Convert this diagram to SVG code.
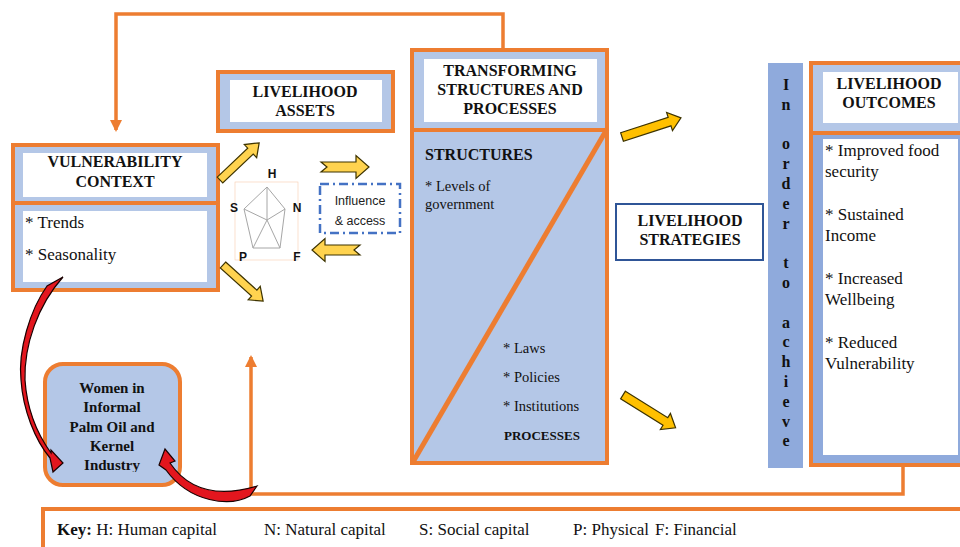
<svg xmlns="http://www.w3.org/2000/svg" width="960" height="547" viewBox="0 0 960 547" font-family="Liberation Serif, Times New Roman, serif">
<defs>
<style>
.ob{fill:#B4C7E7;stroke:#ED7D31;stroke-width:4}
.wb{fill:#FFFFFF;stroke:none}
.hd{font-weight:bold;font-size:16px;fill:#111;text-anchor:middle}
.hl{font-weight:bold;font-size:16px;fill:#111}
.tx{font-size:17px;fill:#111}
.sm{font-size:14.5px;fill:#111}
.sb{font-weight:bold;font-size:12px;fill:#111;text-anchor:middle}
.wt{font-weight:bold;font-size:15px;fill:#111;text-anchor:middle}
.con{fill:none;stroke:#ED7D31;stroke-width:3.5}
.ya{fill:#FFD34F;stroke:#3d3300;stroke-width:1.2}
.yb{fill:#FFC000;stroke:#3d3300;stroke-width:1.2}
.ra{fill:#E3161E;stroke:#1a0000;stroke-width:1.2}
</style>
<marker id="oh" markerWidth="12" markerHeight="12" refX="10" refY="6" orient="auto" markerUnits="userSpaceOnUse">
<path d="M0,0 L12,6 L0,12 Z" fill="#ED7D31"/>
</marker>
<clipPath id="clipW"><rect x="45" y="363" width="135" height="109"/></clipPath>
</defs>
<rect width="960" height="547" fill="#FFFFFF"/>

<g id="vulnerability">
<rect class="ob" x="13" y="145" width="205" height="58"/>
<rect class="wb" x="23" y="153" width="184" height="44"/>
<text class="hd" x="115" y="167">VULNERABILITY</text>
<text class="hd" x="115" y="187">CONTEXT</text>
<rect class="ob" x="13" y="203" width="205" height="87"/>
<rect class="wb" x="23" y="211" width="184" height="71"/>
<text class="tx" x="25" y="228">* Trends</text>
<text class="tx" x="25" y="260">* Seasonality</text>
</g>

<g id="assets">
<rect class="ob" x="218" y="72" width="175" height="59"/>
<rect class="wb" x="230" y="80" width="152" height="42"/>
<text class="hd" x="305" y="97">LIVELIHOOD</text>
<text class="hd" x="305" y="116">ASSETS</text>
</g>

<g id="pentagon" font-family="Liberation Sans, Arial, sans-serif">
<rect x="235" y="182" width="63" height="78" fill="none" stroke="#F8CBAD" stroke-width="0.6"/>
<polygon points="267,187 285,209 280,248 253,248 244,209" fill="#FFFFFF" stroke="#A6A6A6" stroke-width="1"/>
<path d="M267,220 L267,187 M267,220 L285,209 M267,220 L280,248 M267,220 L253,248 M267,220 L244,209" fill="none" stroke="#A6A6A6" stroke-width="1"/>
<text class="sb" x="272" y="178">H</text>
<text class="sb" x="234" y="212">S</text>
<text class="sb" x="297" y="212">N</text>
<text class="sb" x="243" y="261">P</text>
<text class="sb" x="297" y="261">F</text>
</g>

<g id="influence" font-family="Liberation Sans, Arial, sans-serif">
<rect x="320" y="184" width="80" height="49" fill="#FFFFFF" stroke="#4472C4" stroke-width="2.5" stroke-dasharray="9,4,2,4"/>
<text x="360" y="205" font-size="12.5" fill="#222" text-anchor="middle">Influence</text>
<text x="360" y="225" font-size="12.5" fill="#222" text-anchor="middle">&amp; access</text>
</g>

<g id="transforming">
<rect class="ob" x="412" y="50" width="195" height="80"/>
<rect class="wb" x="424" y="59" width="173" height="63"/>
<text class="hd" x="510" y="76">TRANSFORMING</text>
<text class="hd" x="510" y="95">STRUCTURES AND</text>
<text class="hd" x="510" y="114">PROCESSES</text>
<rect class="ob" x="412" y="130" width="195" height="333"/>
<line x1="413" y1="462" x2="607" y2="129" stroke="#ED7D31" stroke-width="5"/>
<text class="hl" x="425" y="160">STRUCTURES</text>
<text class="sm" x="425" y="191">* Levels of</text>
<text class="sm" x="425" y="209">government</text>
<text class="sm" x="503" y="353">* Laws</text>
<text class="sm" x="503" y="382">* Policies</text>
<text class="sm" x="503" y="411">* Institutions</text>
<text class="hl" x="504" y="440" style="font-size:13px">PROCESSES</text>
</g>

<g id="strategies">
<rect x="616" y="204" width="147" height="56" fill="#FFFFFF" stroke="#2F5597" stroke-width="2"/>
<text class="hd" x="690" y="226">LIVELIHOOD</text>
<text class="hd" x="690" y="245">STRATEGIES</text>
</g>

<g id="bar">
<rect x="768" y="63" width="35" height="405" fill="#8FAADC"/>
<text class="hd" x="786" y="90"><tspan x="786" y="90">I</tspan><tspan x="786" y="109.8">n</tspan><tspan x="786" y="149.4">o</tspan><tspan x="786" y="169.2">r</tspan><tspan x="786" y="189">d</tspan><tspan x="786" y="208.8">e</tspan><tspan x="786" y="228.6">r</tspan><tspan x="786" y="268.2">t</tspan><tspan x="786" y="288">o</tspan><tspan x="786" y="327.6">a</tspan><tspan x="786" y="347.4">c</tspan><tspan x="786" y="367.2">h</tspan><tspan x="786" y="387">i</tspan><tspan x="786" y="406.8">e</tspan><tspan x="786" y="426.6">v</tspan><tspan x="786" y="446.4">e</tspan></text>
</g>

<g id="outcomes">
<rect class="ob" x="811" y="63" width="160" height="70"/>
<rect class="wb" x="823" y="72" width="135" height="51"/>
<text class="hd" x="889" y="89">LIVELIHOOD</text>
<text class="hd" x="889" y="108">OUTCOMES</text>
<rect x="811" y="133" width="160" height="332" fill="#8FAADC" stroke="#ED7D31" stroke-width="4"/>
<rect class="wb" x="823" y="139" width="135" height="316"/>
<text class="tx" x="825" y="156">* Improved food</text>
<text class="tx" x="825" y="177">security</text>
<text class="tx" x="825" y="220">* Sustained</text>
<text class="tx" x="825" y="241">Income</text>
<text class="tx" x="825" y="284">* Increased</text>
<text class="tx" x="825" y="305">Wellbeing</text>
<text class="tx" x="825" y="348">* Reduced</text>
<text class="tx" x="825" y="369">Vulnerability</text>
</g>

<g id="women">
<rect x="45" y="364" width="135" height="121" rx="18" ry="18" fill="#B4C7E7" stroke="#ED7D31" stroke-width="4"/>
<text class="wt" x="112" y="393">Women in</text>
<text class="wt" x="112" y="412">Informal</text>
<text class="wt" x="112" y="432">Palm Oil and</text>
<text class="wt" x="112" y="451">Kernel</text>
<text class="wt" x="112" y="470" clip-path="url(#clipW)">Industry</text>
</g>

<g id="key">
<rect x="43" y="509" width="940" height="60" fill="#FFFFFF" stroke="#ED7D31" stroke-width="4"/>
<text class="tx" x="57" y="535"><tspan font-weight="bold">Key:</tspan> H: Human capital</text>
<text class="tx" x="264" y="535">N: Natural capital</text>
<text class="tx" x="419" y="535">S: Social capital</text>
<text class="tx" x="573" y="535">P: Physical</text>
<text class="tx" x="655" y="535">F: Financial</text>
</g>

<g id="connectors">
<path class="con" d="M503,50 L503,14 L116,14 L116,130" marker-end="url(#oh)"/>
<path class="con" d="M903,465 L903,494 L251,494 L251,357" marker-end="url(#oh)"/>
<path class="ya" transform="translate(220,180) rotate(-43.5)" d="M0,-4 L42,-4 L42,-9 L54,0 L42,9 L42,4 L0,4 Z"/>
<path class="ya" transform="translate(223,265) rotate(42)" d="M0,-4 L42,-4 L42,-9 L54,0 L42,9 L42,4 L0,4 Z"/>
<path class="ya" transform="translate(321,167)" d="M0,-5 L35,-5 L35,-11.5 L48,0 L35,11.5 L35,5 L0,5 L6,0 Z"/>
<path class="ya" transform="translate(360,250) rotate(180)" d="M0,-5 L35,-5 L35,-11.5 L48,0 L35,11.5 L35,5 L0,5 L6,0 Z"/>
<path class="yb" transform="translate(622,137) rotate(-18)" d="M0,-4.5 L50,-4.5 L50,-9.5 L62,0 L50,9.5 L50,4.5 L0,4.5 Z"/>
<path class="yb" transform="translate(623,395) rotate(32)" d="M0,-4.5 L50,-4.5 L50,-9.5 L62,0 L50,9.5 L50,4.5 L0,4.5 Z"/>
<path class="ra" d="M63,277 L47,286 C30,310 18,350 21,380 C23,410 35,440 50,458 L53,472 L63,463 L51,450 L51,453 C38,435 27,410 25,380 C24,345 38,305 63,277 Z"/>
<path class="ra" d="M257,486 L250,496 C230,507 190,503 166,470 L159,465 L165,449 L175,461 L170,463 C185,485 210,500 257,486 Z"/>
</g>
</svg>
